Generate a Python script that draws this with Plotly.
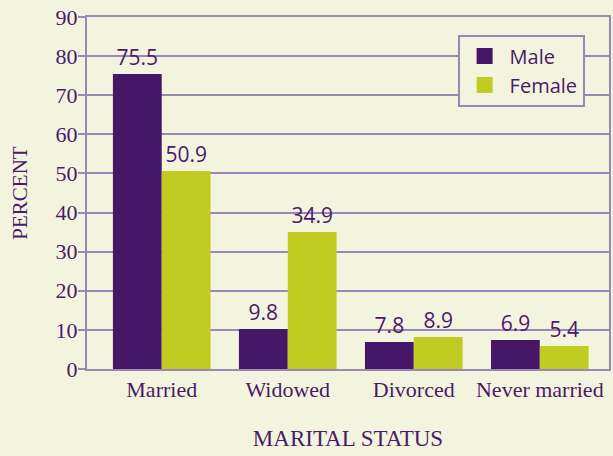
import plotly.graph_objects as go

categories = ["Married", "Widowed", "Divorced", "Never married"]
male_heights = [75.4, 10.2, 6.9, 7.4]
female_heights = [50.6, 35.0, 8.2, 5.9]
male_labels = ["75.5", "9.8", "7.8", "6.9"]
female_labels = ["50.9", "34.9", "8.9", "5.4"]
y_ticks = [0, 10, 20, 30, 40, 50, 60, 70, 80, 90]

BG = "#f3f4de"
MALE = "#461667"
FEMALE = "#c0cc22"
TXT = "#4a1a6a"
GRID = "#9a88b4"

fig = go.Figure()
fig.add_trace(go.Bar(name="Male", x=categories, y=male_heights, text=male_labels,
                     textposition="outside", marker=dict(color=MALE, line=dict(width=0)),
                     textfont=dict(family="Open Sans", size=21, color=TXT), cliponaxis=False,
                     showlegend=False))
fig.add_trace(go.Bar(name="Female", x=categories, y=female_heights, text=female_labels,
                     textposition="outside", marker=dict(color=FEMALE, line=dict(width=0)),
                     textfont=dict(family="Open Sans", size=21, color=TXT), cliponaxis=False,
                     showlegend=False))
# legend entries
fig.add_trace(go.Scatter(name="Male", x=[None], y=[None], mode="markers",
                         marker=dict(symbol="square", size=24, color=MALE)))
fig.add_trace(go.Scatter(name="Female", x=[None], y=[None], mode="markers",
                         marker=dict(symbol="square", size=24, color=FEMALE)))

fig.update_layout(
    width=613, height=456,
    paper_bgcolor=BG, plot_bgcolor=BG,
    margin=dict(l=87, r=2, t=17, b=87),
    barmode="group", bargap=0.225, bargroupgap=0,
    font=dict(family="Liberation Serif", color=TXT),
    legend=dict(x=0.71, y=0.95, xanchor="left", yanchor="top",
                bgcolor=BG, bordercolor=GRID, borderwidth=2,
                font=dict(family="Open Sans", size=20, color=TXT),
                itemwidth=40, itemsizing="trace", tracegroupgap=0),
    xaxis=dict(range=[-0.593, 3.549], showgrid=False,
               showline=True, linecolor=GRID, linewidth=2, mirror=True,
               ticks="", tickfont=dict(family="Liberation Serif", size=22, color=TXT),
               title=dict(text="MARITAL STATUS", font=dict(family="Liberation Serif", size=23, color=TXT), standoff=28)),
    yaxis=dict(range=[0, 90], tickvals=y_ticks, showgrid=True, gridcolor=GRID, gridwidth=2,
               showline=True, linecolor=GRID, linewidth=2, mirror=True,
               ticks="outside", ticklen=7, tickcolor=GRID, tickwidth=2,
               ticklabelstandoff=-4,
               tickfont=dict(family="Liberation Serif", size=22, color=TXT),
               title=dict(text="PERCENT", font=dict(family="Liberation Serif", size=21, color=TXT), standoff=22),
               zeroline=False),
)

fig.write_html("out.html", config={"displayModeBar": False},
               post_script="document.body.style.margin='0';document.body.style.overflow='hidden';")
